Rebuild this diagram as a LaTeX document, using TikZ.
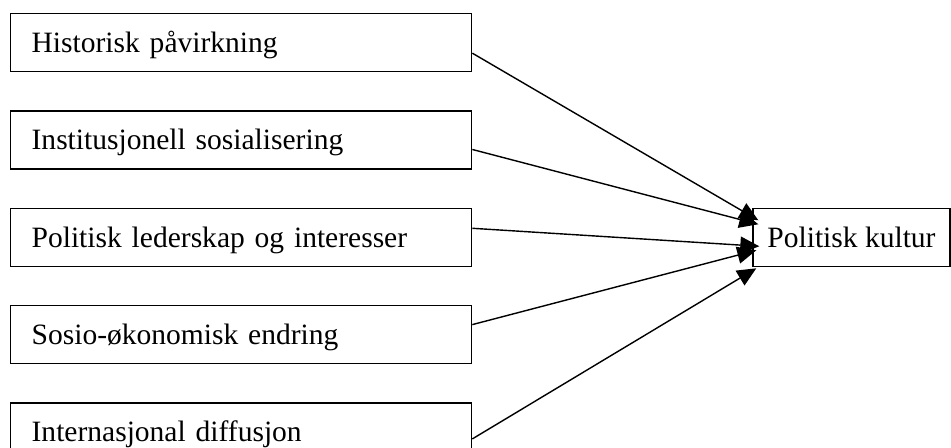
\documentclass[tikz,border=0pt]{standalone}
\usepackage{fontspec}
\setmainfont{Liberation Serif}
\usetikzlibrary{arrows.meta, positioning}
\tikzstyle{factor} = [
	rectangle,
	minimum width=9.22cm,
	minimum height=1.16cm,
	inner xsep=0.42cm,
	text width=8.38cm,
	text height=0.4cm,
	text depth=0cm,
	align=left,
	draw=black,
	line width=0.75pt,
	font=\fontsize{16.8}{20}\selectfont
]
\tikzstyle{outcome} = [
	rectangle,
	minimum width=3.94cm,
	minimum height=1.16cm,
	inner xsep=0.1cm,
	text height=0.4cm,
	text depth=0cm,
	draw=black,
	line width=0.75pt,
	font=\fontsize{16.8}{20}\selectfont
]
\tikzstyle{arrow} = [line width=0.8pt, -{Triangle[length=0.38cm, width=0.34cm]}]
\begin{document}
\begin{tikzpicture}[node distance=0.76cm]
		\useasboundingbox (0,0) rectangle (19.02,-8.96);

		\node (hist) [factor, anchor=north west] at (0.2,-0.26) {Historisk påvirkning};
		\node (inst) [factor, below=of hist] {Institusjonell sosialisering};
		\node (lead) [factor, below=of inst] {Politisk lederskap og interesser};
		\node (socio) [factor, below=of lead] {Sosio-økonomisk endring};
		\node (diff) [factor, below=of socio] {Internasjonal diffusjon};

		\node (kultur) [outcome, right=5.6cm of lead] {Politisk kultur};

		\draw [arrow] ([yshift=-0.21cm]hist.east) -- ([xshift=0.12cm, yshift=0.34cm]kultur.west);
		\draw [arrow] ([yshift=-0.19cm]inst.east) -- ([xshift=0.12cm, yshift=0.26cm]kultur.west);
		\draw [arrow] ([yshift=0.18cm]lead.east) -- ([xshift=0.14cm, yshift=-0.18cm]kultur.west);
		\draw [arrow] ([yshift=0.2cm]socio.east) -- ([xshift=0.08cm, yshift=-0.26cm]kultur.west);
		\draw [arrow] ([yshift=-0.14cm]diff.east) -- ([xshift=0.08cm, yshift=-0.62cm]kultur.west);
	\end{tikzpicture}
\end{document}
